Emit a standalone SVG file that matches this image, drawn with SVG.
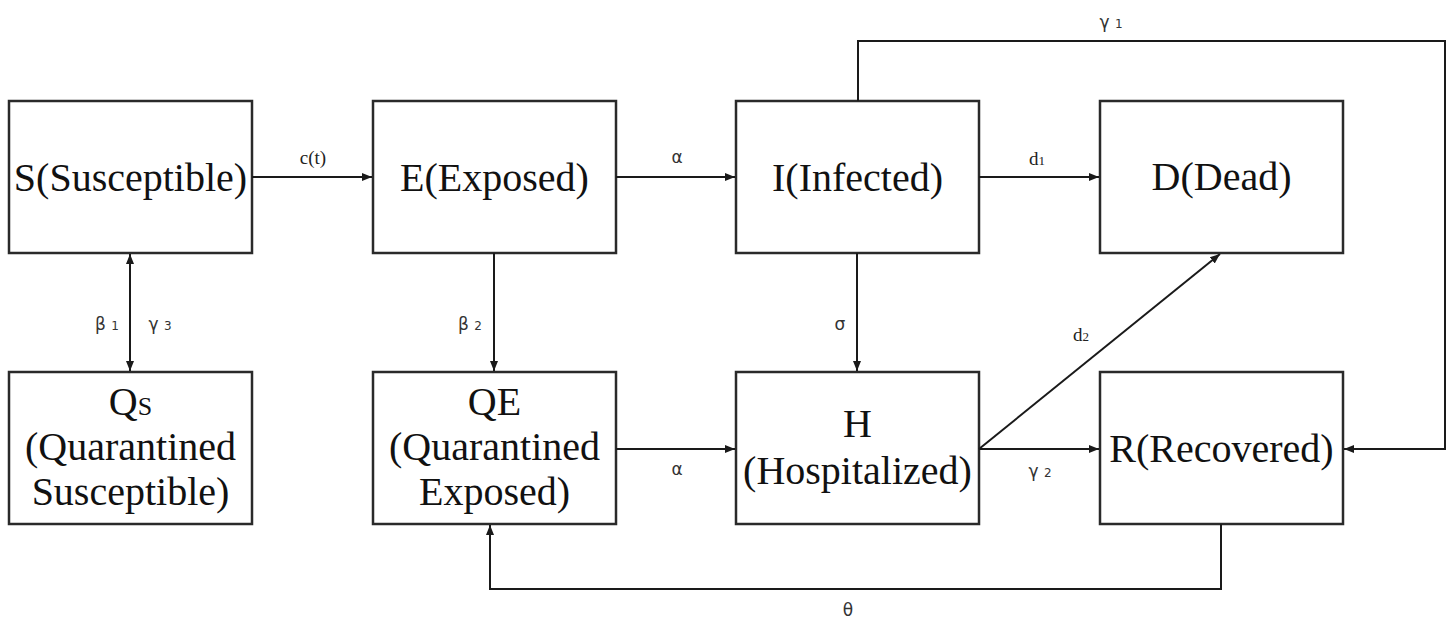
<svg xmlns="http://www.w3.org/2000/svg" width="1452" height="618" viewBox="0 0 1452 618">
<defs>
<marker id="ah" viewBox="0 0 10 10" refX="10" refY="5" markerWidth="10" markerHeight="10" markerUnits="userSpaceOnUse" orient="auto-start-reverse">
<path d="M0,1 L10,5 L0,9 Z" fill="#1a1a1a"/>
</marker>
<style>
.box{fill:#fff;stroke:#2a2a2a;stroke-width:2.5}
.t{font-family:"Liberation Serif","Times New Roman",serif;font-size:40px;fill:#111;text-anchor:middle}
.c{fill:none;stroke:#1a1a1a;stroke-width:2}
.l{font-family:"DejaVu Sans","Liberation Sans",sans-serif;font-size:17px;fill:#333;text-anchor:middle}
.ls{font-family:"Liberation Serif","Times New Roman",serif;font-size:19px;fill:#222;text-anchor:middle}
</style>
</defs>
<rect width="1452" height="618" fill="#fff"/>
<g id="S"><rect class="box" x="9" y="101" width="243" height="152"/><text class="t" x="130.5" y="191">S(Susceptible)</text></g>
<g id="E"><rect class="box" x="373" y="101" width="243" height="152"/><text class="t" x="494.5" y="191">E(Exposed)</text></g>
<g id="I"><rect class="box" x="736" y="101" width="243" height="152"/><text class="t" x="857.5" y="191">I(Infected)</text></g>
<g id="D"><rect class="box" x="1100" y="101" width="243" height="152"/><text class="t" x="1221.5" y="190">D(Dead)</text></g>
<g id="Qs"><rect class="box" x="9" y="372" width="243" height="152"/><text class="t" x="130.5" y="415">Q<tspan font-size="26">S</tspan></text><text class="t" x="130.5" y="460">(Quarantined</text><text class="t" x="130.5" y="505">Susceptible)</text></g>
<g id="QE"><rect class="box" x="373" y="372" width="243" height="152"/><text class="t" x="494.5" y="415">QE</text><text class="t" x="494.5" y="460">(Quarantined</text><text class="t" x="494.5" y="505">Exposed)</text></g>
<g id="H"><rect class="box" x="736" y="372" width="243" height="152"/><text class="t" x="857.5" y="437">H</text><text class="t" x="857.5" y="484">(Hospitalized)</text></g>
<g id="R"><rect class="box" x="1100" y="372" width="243" height="152"/><text class="t" x="1221.5" y="462">R(Recovered)</text></g>
<g id="connectors">
<line class="c" x1="252" y1="177" x2="372" y2="177" marker-end="url(#ah)"/>
<line class="c" x1="616" y1="177" x2="735" y2="177" marker-end="url(#ah)"/>
<line class="c" x1="979" y1="177" x2="1099" y2="177" marker-end="url(#ah)"/>
<line class="c" x1="130" y1="254" x2="130" y2="371" marker-start="url(#ah)" marker-end="url(#ah)"/>
<line class="c" x1="494" y1="253" x2="494" y2="371" marker-end="url(#ah)"/>
<line class="c" x1="857" y1="253" x2="857" y2="371" marker-end="url(#ah)"/>
<line class="c" x1="616" y1="449" x2="735" y2="449" marker-end="url(#ah)"/>
<line class="c" x1="979" y1="449" x2="1099" y2="449" marker-end="url(#ah)"/>
<line class="c" x1="979" y1="449" x2="1220" y2="254" marker-end="url(#ah)"/>
<polyline class="c" points="858,101 858,41 1445,41 1445,449 1344,449" marker-end="url(#ah)"/>
<polyline class="c" points="1221,524 1221,589 490,589 490,525" marker-end="url(#ah)"/>
<text class="ls" x="313" y="164">c(t)</text>
<text class="l" x="677" y="163">α</text>
<text class="ls" x="1037" y="165">d<tspan font-size="13">1</tspan></text>
<text class="l" x="107" y="330">β <tspan font-size="12">1</tspan></text>
<text class="l" x="160" y="330">γ <tspan font-size="12">3</tspan></text>
<text class="l" x="470" y="330">β <tspan font-size="12">2</tspan></text>
<text class="l" x="840" y="330">σ</text>
<text class="ls" x="1081" y="341">d<tspan font-size="13">2</tspan></text>
<text class="l" x="677" y="475">α</text>
<text class="l" x="1040" y="477">γ <tspan font-size="12">2</tspan></text>
<text class="l" x="1111" y="28">γ <tspan font-size="12">1</tspan></text>
<text class="l" x="848" y="616">θ</text>
</g>
</svg>
